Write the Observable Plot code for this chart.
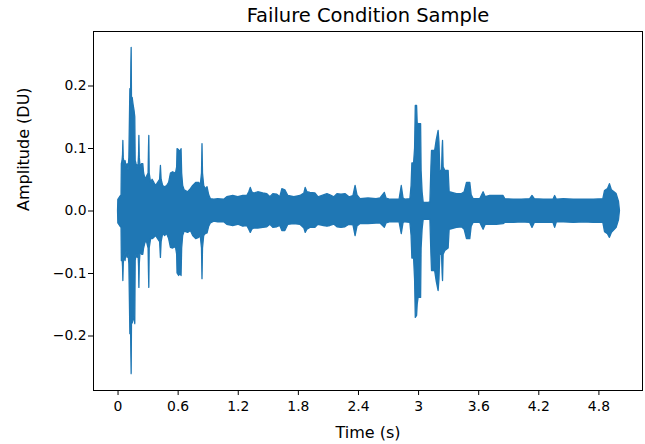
<!DOCTYPE html>
<html>
<head>
<meta charset="utf-8">
<script src="https://cdn.jsdelivr.net/npm/d3@7"></script>
<script src="https://cdn.jsdelivr.net/npm/@observablehq/plot@0.6"></script>
<style>
  html, body { margin: 0; padding: 0; background: #fff; }
</style>
</head>
<body>
<div id="chart"></div>
<script>
// Envelope of the waveform: time (s), upper and lower amplitude (DU)
const time = [
  0.000, 0.003, 0.020, 0.035, 0.038, 0.045, 0.050, 0.053, 0.057, 0.065, 0.075, 0.085, 0.095, 0.105, 0.113,
  0.118, 0.123, 0.128, 0.133, 0.136, 0.139, 0.146, 0.155, 0.165, 0.172, 0.176, 0.185, 0.195, 0.205, 0.210,
  0.213, 0.217, 0.225, 0.240, 0.252, 0.260, 0.275, 0.290, 0.305, 0.309, 0.312, 0.316, 0.330, 0.345, 0.362,
  0.380, 0.400, 0.420, 0.428, 0.435, 0.450, 0.470, 0.490, 0.510, 0.528, 0.550, 0.578, 0.590, 0.594, 0.610,
  0.625, 0.634, 0.640, 0.650, 0.665, 0.700, 0.727, 0.750, 0.780, 0.810, 0.825, 0.838, 0.843, 0.848, 0.860,
  0.875, 0.893, 0.910, 0.926,
  0.960, 1.000, 1.060, 1.090, 1.150, 1.200, 1.250, 1.290, 1.310, 1.325, 1.340, 1.360, 1.400, 1.450, 1.490,
  1.520, 1.550, 1.590, 1.620, 1.640, 1.670, 1.700, 1.760, 1.820, 1.860, 1.873, 1.890, 1.920, 1.970, 2.000,
  2.055, 2.090, 2.120, 2.160, 2.190, 2.230, 2.270, 2.310, 2.350, 2.371, 2.390, 2.420, 2.500, 2.580, 2.620,
  2.663, 2.680, 2.720, 2.786, 2.810, 2.832, 2.850, 2.870, 2.918, 2.930, 2.938, 2.955, 2.965, 2.972, 2.985,
  2.991, 3.000, 3.015, 3.025, 3.030, 3.040, 3.051, 3.100, 3.118, 3.128, 3.134, 3.165, 3.180, 3.200, 3.208,
  3.217, 3.234, 3.240, 3.244, 3.250, 3.267, 3.300, 3.310, 3.383, 3.433, 3.460, 3.483, 3.516, 3.530, 3.549,
  3.616, 3.649, 3.670, 3.715, 3.780, 3.848, 3.865, 3.950, 4.030, 4.114, 4.137, 4.160, 4.250, 4.346, 4.363,
  4.380, 4.450, 4.550, 4.650, 4.750, 4.844, 4.861, 4.890, 4.910, 4.930, 4.977, 5.000, 5.010
];
const upper = [
  0.000, 0.018, 0.022, 0.025, 0.075, 0.080, 0.090, 0.112, 0.085, 0.075, 0.080, 0.070, 0.075, 0.065, 0.085,
  0.140, 0.195, 0.150, 0.235, 0.261, 0.180, 0.181, 0.170, 0.160, 0.150, 0.080, 0.075, 0.070, 0.075, 0.090,
  0.120, 0.085, 0.070, 0.075, 0.075, 0.060, 0.050, 0.055, 0.060, 0.100, 0.120, 0.060, 0.045, 0.050, 0.045,
  0.040, 0.045, 0.050, 0.072, 0.050, 0.040, 0.038, 0.040, 0.045, 0.060, 0.062, 0.060, 0.070, 0.099, 0.097,
  0.095, 0.099, 0.060, 0.040, 0.033, 0.030, 0.035, 0.040, 0.045, 0.045, 0.040, 0.060, 0.107, 0.060, 0.040,
  0.035, 0.038, 0.025, 0.019,
  0.018, 0.019, 0.018, 0.022, 0.024, 0.022, 0.024, 0.024, 0.030, 0.037, 0.030, 0.028, 0.030, 0.028, 0.027,
  0.022, 0.027, 0.026, 0.022, 0.035, 0.033, 0.024, 0.022, 0.024, 0.028, 0.037, 0.030, 0.029, 0.028, 0.022,
  0.025, 0.027, 0.025, 0.022, 0.027, 0.026, 0.027, 0.022, 0.024, 0.040, 0.025, 0.019, 0.020, 0.019, 0.020,
  0.029, 0.020, 0.018, 0.018, 0.018, 0.040, 0.020, 0.018, 0.019, 0.040, 0.076, 0.076, 0.100, 0.168, 0.168,
  0.140, 0.139, 0.139, 0.139, 0.064, 0.030, 0.013, 0.013, 0.014, 0.070, 0.096, 0.096, 0.112, 0.128, 0.110,
  0.064, 0.064, 0.100, 0.112, 0.070, 0.064, 0.064, 0.030, 0.027, 0.027, 0.030, 0.045, 0.045, 0.025, 0.019,
  0.019, 0.030, 0.022, 0.024, 0.024, 0.024, 0.019, 0.018, 0.018, 0.019, 0.024, 0.019, 0.018, 0.018, 0.024,
  0.018, 0.019, 0.018, 0.018, 0.018, 0.019, 0.032, 0.035, 0.043, 0.033, 0.027, 0.015, 0.000
];
const lower = [
  0.000, -0.020, -0.024, -0.027, -0.080, -0.075, -0.090, -0.112, -0.085, -0.070, -0.080, -0.065, -0.075, -0.070, -0.085,
  -0.140, -0.197, -0.160, -0.230, -0.261, -0.180, -0.180, -0.175, -0.170, -0.181, -0.080, -0.070, -0.075, -0.070, -0.090,
  -0.123, -0.085, -0.065, -0.070, -0.070, -0.060, -0.050, -0.050, -0.060, -0.100, -0.123, -0.060, -0.045, -0.045, -0.043,
  -0.040, -0.045, -0.050, -0.075, -0.050, -0.037, -0.040, -0.037, -0.045, -0.059, -0.060, -0.058, -0.070, -0.100, -0.104,
  -0.100, -0.104, -0.060, -0.040, -0.033, -0.035, -0.032, -0.040, -0.045, -0.043, -0.040, -0.060, -0.109, -0.060, -0.040,
  -0.037, -0.036, -0.025, -0.020,
  -0.017, -0.018, -0.018, -0.022, -0.024, -0.022, -0.025, -0.024, -0.030, -0.035, -0.030, -0.028, -0.028, -0.027, -0.026,
  -0.022, -0.027, -0.026, -0.024, -0.032, -0.032, -0.022, -0.021, -0.022, -0.028, -0.035, -0.030, -0.027, -0.027, -0.022,
  -0.024, -0.025, -0.024, -0.022, -0.026, -0.027, -0.026, -0.022, -0.023, -0.040, -0.025, -0.021, -0.021, -0.020, -0.020,
  -0.027, -0.020, -0.018, -0.018, -0.018, -0.037, -0.019, -0.018, -0.019, -0.040, -0.076, -0.076, -0.110, -0.171, -0.168,
  -0.150, -0.139, -0.139, -0.139, -0.060, -0.030, -0.014, -0.014, -0.014, -0.070, -0.096, -0.096, -0.112, -0.128, -0.110,
  -0.070, -0.070, -0.100, -0.112, -0.070, -0.064, -0.060, -0.030, -0.027, -0.026, -0.030, -0.045, -0.045, -0.025, -0.019,
  -0.019, -0.030, -0.022, -0.022, -0.022, -0.021, -0.019, -0.019, -0.018, -0.019, -0.027, -0.019, -0.019, -0.019, -0.027,
  -0.018, -0.018, -0.019, -0.018, -0.019, -0.019, -0.034, -0.037, -0.043, -0.035, -0.027, -0.015, 0.000
];

const xTicks = [0, 0.6, 1.2, 1.8, 2.4, 3.0, 3.6, 4.2, 4.8];
const xTickLabels = ["0", "0.6", "1.2", "1.8", "2.4", "3", "3.6", "4.2", "4.8"];
const yTicks = [-0.2, -0.1, 0.0, 0.1, 0.2];
const yTickLabels = ["\u22120.2", "\u22120.1", "0.0", "0.1", "0.2"];

const titleText = "Failure Condition Sample";
const xLabel = "Time (s)";
const yLabel = "Amplitude (DU)";

const wave = time.map((t, i) => ({t, hi: upper[i], lo: lower[i]}));
const xFmt = new Map(xTicks.map((d, i) => [d, xTickLabels[i]]));
const yFmt = new Map(yTicks.map((d, i) => [d, yTickLabels[i]]));

const color = "#1f77b4";
const ink = "#000";

const chart = Plot.plot({
  width: 645,
  height: 444,
  marginLeft: 93,
  marginRight: 3,
  marginTop: 31,
  marginBottom: 54,
  style: {fontFamily: "DejaVu Sans", fontSize: "13.9px", color: ink, background: "#fff"},
  x: {domain: [-0.245, 5.235]},
  y: {domain: [-0.2872, 0.2872]},
  marks: [
    Plot.areaY(wave, {x: "t", y1: "lo", y2: "hi", fill: color, stroke: color, strokeWidth: 1.3, curve: "linear"}),
    Plot.frame({stroke: ink, strokeWidth: 1}),
    Plot.axisX({ticks: xTicks, tickFormat: d => xFmt.get(d), tickSize: 5, tickPadding: 6, label: null, fontSize: 13.9}),
    Plot.axisY({ticks: yTicks, tickFormat: d => yFmt.get(d), tickSize: 5, tickPadding: 2, label: null, fontSize: 13.9}),
    Plot.text([titleText], {frameAnchor: "top", text: d => d, dy: -9.5, lineAnchor: "bottom", fontSize: 19.5, fill: ink}),
    Plot.text([xLabel], {frameAnchor: "bottom", text: d => d, dy: 47, lineAnchor: "bottom", fontSize: 16, fill: ink}),
    Plot.text([yLabel], {frameAnchor: "left", text: d => d, dx: -65, rotate: -90, lineAnchor: "bottom", fontSize: 16, fill: ink})
  ]
});
document.getElementById("chart").appendChild(chart);
</script>
</body>
</html>
